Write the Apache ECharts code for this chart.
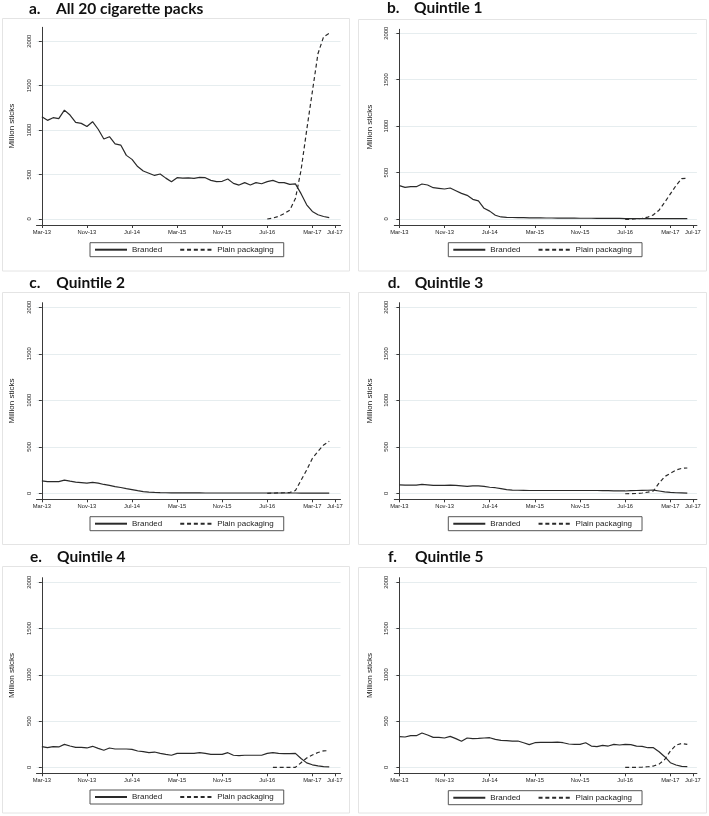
<!DOCTYPE html>
<html><head><meta charset="utf-8">
<script src="https://cdn.jsdelivr.net/npm/echarts@6/dist/echarts.min.js"></script>
<style>html,body{margin:0;padding:0;background:#fff}#c{width:709px;height:816px}</style>
</head><body><div id="c"></div>
<script>
// ---------- DATA ----------
const months = ['Mar-13','Apr-13','May-13','Jun-13','Jul-13','Aug-13','Sep-13','Oct-13','Nov-13','Dec-13',
  'Jan-14','Feb-14','Mar-14','Apr-14','May-14','Jun-14','Jul-14','Aug-14','Sep-14','Oct-14','Nov-14','Dec-14',
  'Jan-15','Feb-15','Mar-15','Apr-15','May-15','Jun-15','Jul-15','Aug-15','Sep-15','Oct-15','Nov-15','Dec-15',
  'Jan-16','Feb-16','Mar-16','Apr-16','May-16','Jun-16','Jul-16','Aug-16','Sep-16','Oct-16','Nov-16','Dec-16',
  'Jan-17','Feb-17','Mar-17','Apr-17','May-17','Jun-17','Jul-17'];
const xTickLabels = ['Mar-13','Nov-13','Jul-14','Mar-15','Nov-15','Jul-16','Mar-17','Jul-17'];
const yTicks = [0, 500, 1000, 1500, 2000];
const seriesNames = ['Branded', 'Plain packaging'];
const panelLetters = ['a.', 'b.', 'c.', 'd.', 'e.', 'f.'];
const panelNames = ['All 20 cigarette packs', 'Quintile 1', 'Quintile 2', 'Quintile 3', 'Quintile 4', 'Quintile 5'];

// Branded: monthly from Mar-13 to Jun-17
const brandedAll = [1150,1110,1140,1130,1225,1170,1087,1076,1040,1095,1010,900,926,845,832,716,671,590,540,515,490,506,460,420,465,461,462,458,469,465,435,420,424,450,401,382,409,383,409,397,420,435,410,410,390,395,285,160,85,48,28,15];
const brandedQ1 = [359,341,348,348,377,366,337,330,323,334,305,276,255,212,195,115,85,40,22,18,16,15,14,13,12,12,11,11,10,10,9,9,8,8,8,7,7,7,6,6,5,5,5,5,5,5,5,4,4,4,4,4];
const brandedQ2 = [133,125,125,125,142,130,120,115,110,118,110,95,85,72,62,50,40,28,18,12,9,7,6,5,5,4,4,4,4,3,3,3,3,3,3,3,3,3,3,3,3,3,3,3,3,3,2,2,2,1,1,1];
const brandedQ3 = [90,88,88,88,95,90,85,85,85,88,85,80,75,80,80,75,65,60,50,40,35,33,32,30,30,30,30,30,30,30,30,30,30,30,30,30,28,28,27,26,25,28,30,32,33,35,25,15,10,6,4,2];
const brandedQ4 = [223,212,223,220,248,230,216,216,209,227,205,184,209,198,198,198,194,176,169,158,165,151,140,130,151,151,151,151,158,151,140,140,140,158,130,126,130,130,130,130,151,158,151,148,148,151,95,48,27,15,8,4];
const brandedQ5 = [331,328,342,342,371,349,324,324,317,335,310,281,317,310,313,317,320,302,292,288,284,284,266,245,266,270,270,270,273,266,252,248,248,266,230,223,237,230,248,241,248,245,230,227,212,212,169,115,50,25,11,7];

// Plain packaging: monthly from the given start month to Jun-17
const plainAllStart = 'Jul-16', plainAll = [0,10,30,60,100,230,550,1000,1430,1860,2050,2090];
const plainQ1Start = 'Jul-16', plainQ1 = [-5,-3,3,8,20,45,95,180,270,360,435,440];
const plainQ2Start = 'Jul-16', plainQ2 = [0,2,4,6,8,30,140,250,375,450,520,560];
const plainQ3Start = 'Jul-16', plainQ3 = [-5,-4,-2,3,12,25,110,180,215,250,268,272];
const plainQ4Start = 'Aug-16', plainQ4 = [0,0,0,0,0,50,100,133,160,178,180];
const plainQ5Start = 'Jul-16', plainQ5 = [0,0,0,2,6,14,35,85,176,240,258,248];

const brandedSets = [brandedAll, brandedQ1, brandedQ2, brandedQ3, brandedQ4, brandedQ5];
const plainSets = [[plainAllStart, plainAll], [plainQ1Start, plainQ1], [plainQ2Start, plainQ2],
                   [plainQ3Start, plainQ3], [plainQ4Start, plainQ4], [plainQ5Start, plainQ5]];

// ---------- LAYOUT ----------
const layout = [
  {grid:{left:36.5, top:27.3, width:304, height:197.7}, y:[-67.5,2157], x:[-0.95,53], title:[29,9.3],  legend:[90,242.7],  box:[2.5,18.5,347,252.5]},
  {grid:{left:394.3, top:29.3, width:302.6, height:195.7}, y:[-64.6,2043], x:[-0.9,52.7], title:[387,8.3], legend:[448.3,242.7], box:[358.5,19.5,348,251.5]},
  {grid:{left:36.5, top:302.7, width:304, height:196.6}, y:[-64.5,2049], x:[-0.95,53], title:[29.3,283.3], legend:[90,516.7], box:[2.5,292.5,347,252]},
  {grid:{left:394.3, top:302.7, width:302.6, height:196.6}, y:[-64.5,2049], x:[-0.9,52.7], title:[387.7,283], legend:[448.3,516.7], box:[358.5,292.5,348,252]},
  {grid:{left:36.5, top:577.7, width:304, height:195.6}, y:[-64.9,2050], x:[-0.95,53], title:[30,556.7], legend:[90,790], box:[2.5,566.5,347,246.5]},
  {grid:{left:394.3, top:577.7, width:302.6, height:195.6}, y:[-64.5,2049], x:[-0.9,52.7], title:[388,557.3], legend:[448.3,790.7], box:[358.5,567.5,348,245.5]}
];

const xTickIdx = xTickLabels.map(l => months.indexOf(l));
const axisColor = '#3a3a3a';
const lineColor = '#2a2a2a';
const labelFont = 'Liberation Sans';

const option = {
  animation: false,
  backgroundColor: '#fff',
  title: [], legend: [], grid: [], xAxis: [], yAxis: [], series: [],
  graphic: []
};

layout.forEach((L, i) => {
  option.graphic.push({
    type: 'rect', silent: true, z: -10,
    shape: {x: L.box[0], y: L.box[1], width: L.box[2], height: L.box[3]},
    style: {fill: 'none', stroke: '#e4e4e4', lineWidth: 1}
  });
  option.title.push({
    text: '{l|' + panelLetters[i] + '}' + panelNames[i],
    left: L.title[0], top: L.title[1] - 9, padding: 0,
    textStyle: {
      fontFamily: 'Lato', fontWeight: 'bold', fontSize: 15.5, color: '#111', lineHeight: 18,
      rich: {l: {width: 27, fontFamily: 'Lato', fontWeight: 'bold', fontSize: 15.5, color: '#111', lineHeight: 18}}
    }
  });
  option.grid.push(Object.assign({outerBoundsMode: 'none', containLabel: false}, L.grid));
  option.xAxis.push({
    type: 'value', gridIndex: i, min: L.x[0], max: L.x[1],
    axisLine: {show: true, onZero: false, lineStyle: {color: axisColor, width: 1}},
    axisTick: {show: true, length: 3, customValues: xTickIdx, lineStyle: {color: axisColor, width: 1}},
    axisLabel: {
      customValues: xTickIdx, margin: 4, fontSize: 5.8, color: '#222', fontFamily: labelFont,
      formatter: v => xTickLabels[xTickIdx.indexOf(v)] || ''
    },
    splitLine: {show: false}
  });
  option.yAxis.push({
    type: 'value', gridIndex: i, min: L.y[0], max: L.y[1],
    name: 'Million sticks', nameLocation: 'middle', nameGap: 21, nameRotate: 90,
    nameTextStyle: {fontSize: 8, color: '#222', fontFamily: labelFont},
    axisLine: {show: true, lineStyle: {color: axisColor, width: 1}},
    axisTick: {show: true, length: 3, customValues: yTicks, lineStyle: {color: axisColor, width: 1}},
    axisLabel: {customValues: yTicks, rotate: 90, margin: 4.5, fontSize: 5.8, color: '#222', fontFamily: labelFont,
      formatter: v => String(v)},
    splitLine: {show: true, lineStyle: {color: '#e6edef', width: 1}}
  });
  option.series.push({
    name: seriesNames[0], type: 'line', xAxisIndex: i, yAxisIndex: i,
    symbol: 'none', silent: true,
    lineStyle: {color: lineColor, width: 1.2},
    itemStyle: {color: lineColor},
    data: brandedSets[i].map((v, k) => [k, v])
  });
  const start = months.indexOf(plainSets[i][0]);
  option.series.push({
    name: seriesNames[1], type: 'line', xAxisIndex: i, yAxisIndex: i,
    symbol: 'none', silent: true,
    lineStyle: {color: lineColor, width: 1.2, type: [4, 2.8]},
    itemStyle: {color: lineColor},
    data: plainSets[i][1].map((v, k) => [start + k, v])
  });
  option.legend.push({
    data: seriesNames, left: L.legend[0], top: L.legend[1],
    orient: 'horizontal', padding: [3, 10, 3, 4],
    borderColor: '#555', borderWidth: 1, borderRadius: 0,
    itemWidth: 32, itemHeight: 10, itemGap: 17,
    selectedMode: false,
    itemStyle: {opacity: 0},
    lineStyle: {opacity: 1},
    textStyle: {fontSize: 8, color: '#222', fontFamily: labelFont}
  });
});

const chart = echarts.init(document.getElementById('c'));
chart.setOption(option);
</script>
</body></html>
